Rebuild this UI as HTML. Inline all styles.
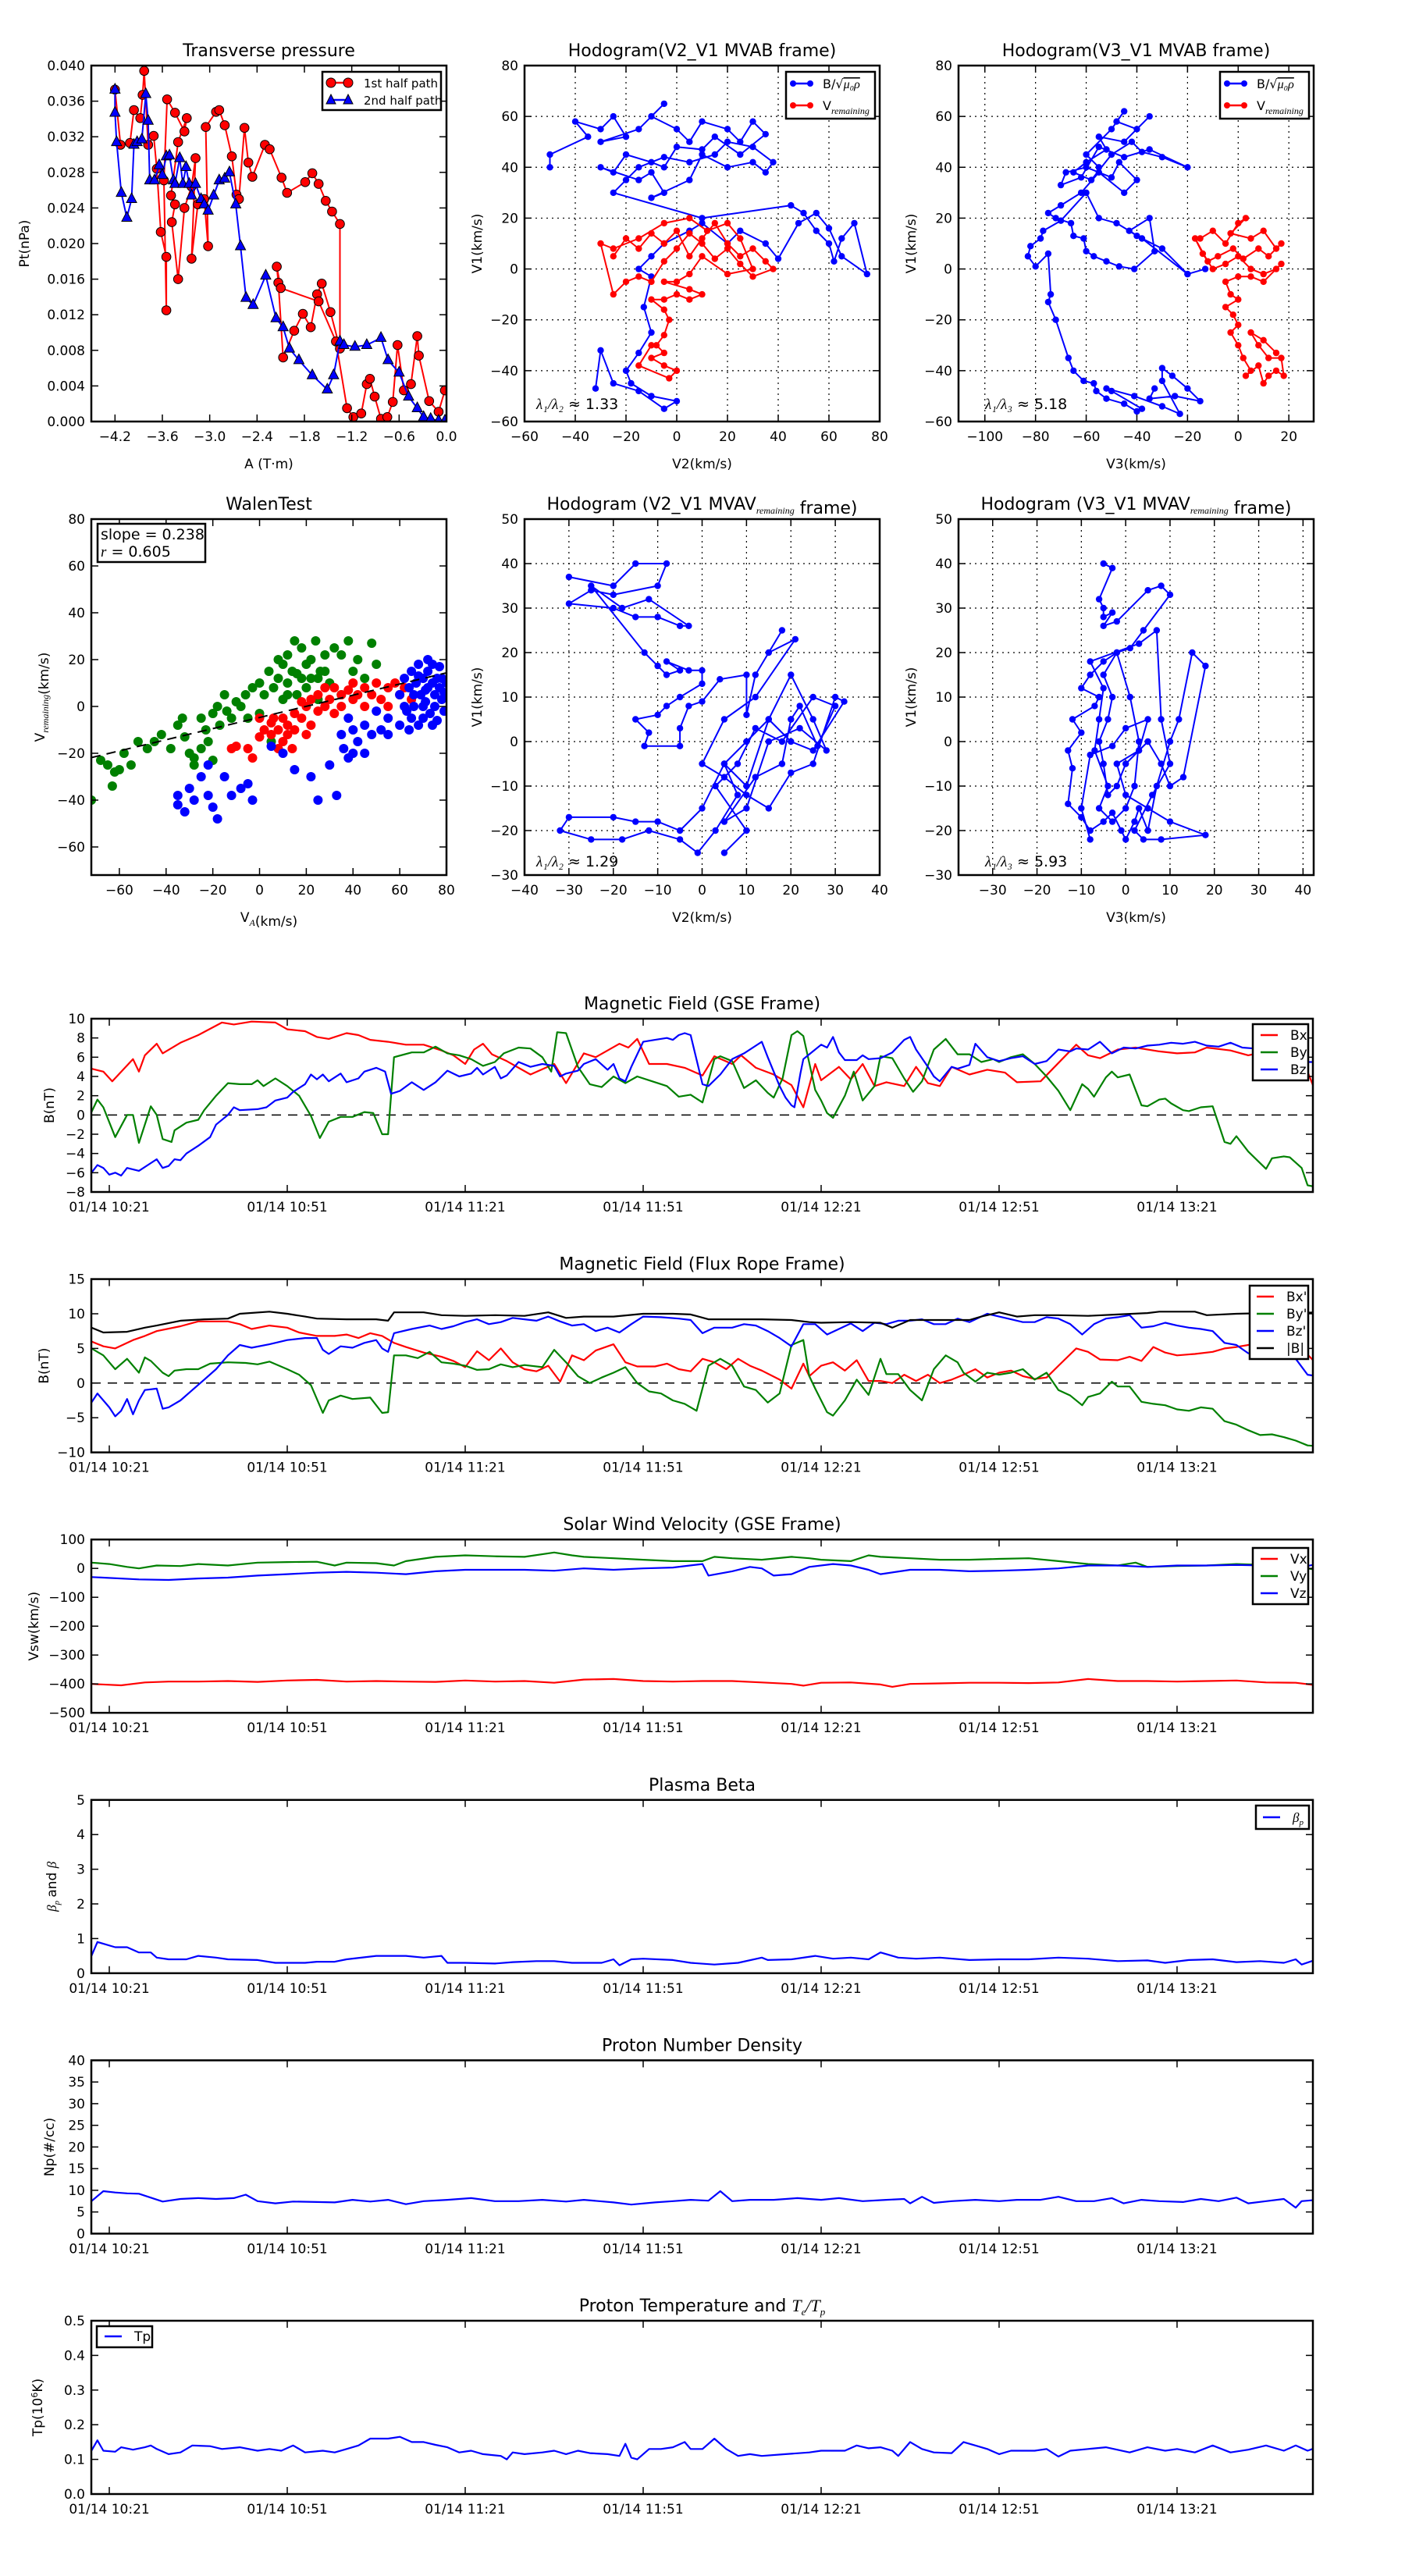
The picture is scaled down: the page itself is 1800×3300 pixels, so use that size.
<!DOCTYPE html>
<html><head><meta charset="utf-8"><title>Flux rope analysis</title>
<style>
html,body{margin:0;padding:0;background:#fff;}
svg{display:block;font-family:"DejaVu Sans","Liberation Sans",sans-serif;}
</style></head>
<body>
<svg id="fig" width="1800" height="3300" viewBox="0 0 1800 3300" xmlns="http://www.w3.org/2000/svg">
<rect x="0" y="0" width="1800" height="3300" fill="#fff"/>
</svg>
<script>
// ---------------- DATA ----------------
const ptTicksX=[-4.2,-3.6,-3.0,-2.4,-1.8,-1.2,-0.6,0.0];
const ptTicksY=[0,0.004,0.008,0.012,0.016,0.020,0.024,0.028,0.032,0.036,0.040];
const pt1stHalf=[[-4.20,.0373],[-4.13,.0311],[-4.01,.0313],[-3.96,.0350],[-3.88,.0341],[-3.85,.0367],[-3.83,.0394],[-3.78,.0311],[-3.71,.0321],[-3.67,.0284],[-3.62,.0213],[-3.55,.0185],[-3.55,.0125],[-3.58,.0271],[-3.54,.0362],[-3.44,.0347],[-3.32,.0326],[-3.29,.0341],[-3.40,.0314],[-3.49,.0254],[-3.44,.0244],[-3.48,.0224],[-3.40,.0160],[-3.32,.0240],[-3.23,.0264],[-3.18,.0296],[-3.23,.0183],[-3.15,.0244],[-3.07,.0250],[-3.02,.0197],[-3.05,.0331],[-2.92,.0348],[-2.88,.0350],[-2.81,.0333],[-2.72,.0298],[-2.66,.0255],[-2.63,.0250],[-2.56,.0330],[-2.51,.0291],[-2.46,.0275],[-2.30,.0311],[-2.24,.0306],[-2.09,.0274],[-2.02,.0257],[-1.79,.0269],[-1.70,.0279],[-1.62,.0267],[-1.53,.0248],[-1.45,.0236],[-1.35,.0222],[-1.35,.0082],[-1.47,.0123],[-1.58,.0155],[-1.64,.0143],[-1.72,.0106],[-1.82,.0121],[-1.93,.0102],[-2.07,.0072],[-2.13,.0156],[-2.15,.0174],[-2.10,.0150],[-1.62,.0135],[-1.40,.0090],[-1.26,.0015],[-1.18,.0005],[-1.08,.0009],[-1.01,.0042],[-0.97,.0048],[-0.91,.0028],[-0.83,.0003],[-0.75,.0005],[-0.68,.0022],[-0.62,.0086],[-0.54,.0035],[-0.45,.0042],[-0.37,.0096],[-0.35,.0074],[-0.22,.0023],[-0.10,.0011],[-0.02,.0035]];
const pt2ndHalf=[[-4.20,.0373],[-4.20,.0347],[-4.18,.0314],[-4.12,.0257],[-4.05,.0229],[-3.99,.0250],[-3.96,.0311],[-3.92,.0314],[-3.86,.0317],[-3.81,.0368],[-3.78,.0338],[-3.76,.0271],[-3.70,.0271],[-3.64,.0288],[-3.60,.0277],[-3.55,.0298],[-3.51,.0299],[-3.46,.0271],[-3.44,.0267],[-3.38,.0296],[-3.34,.0267],[-3.30,.0286],[-3.26,.0267],[-3.23,.0254],[-3.18,.0267],[-3.11,.0250],[-3.07,.0244],[-3.02,.0237],[-2.95,.0254],[-2.88,.0271],[-2.81,.0273],[-2.75,.0280],[-2.67,.0244],[-2.61,.0197],[-2.54,.0139],[-2.45,.0131],[-2.29,.0164],[-2.16,.0116],[-2.07,.0106],[-1.99,.0082],[-1.87,.0069],[-1.70,.0052],[-1.51,.0036],[-1.43,.0052],[-1.35,.0090],[-1.30,.0086],[-1.16,.0084],[-1.01,.0086],[-0.83,.0094],[-0.74,.0069],[-0.60,.0055],[-0.48,.0028],[-0.37,.0015],[-0.29,.0005],[-0.20,.0003],[-0.10,.0001],[-0.02,.0001]];

const h1Blue=[[-50,40],[-50,45],[-35,52],[-40,58],[-30,55],[-25,60],[-20,52],[-30,50],[-15,55],[-5,65],[-10,60],[0,55],[5,50],[10,58],[20,55],[25,50],[30,58],[35,53],[25,45],[15,52],[10,47],[0,48],[-5,40],[-10,42],[-20,45],[-25,38],[-30,40],[-15,35],[-10,38],[-5,30],[-10,28],[5,35],[10,45],[20,40],[30,42],[35,38],[38,42],[30,48],[20,50],[15,45],[5,42],[-5,44],[-15,40],[-20,35],[-25,30],[10,20],[45,25],[50,22],[55,15],[60,10],[62,3],[65,12],[70,18],[75,-2],[65,5],[60,16],[55,22],[48,18],[40,4],[35,10],[25,15],[20,10],[10,18],[5,15],[-5,10],[-10,5],[-15,0],[-10,-3],[-13,-15],[-10,-25],[-15,-33],[-20,-40],[-18,-45],[-10,-50],[0,-52],[-5,-55],[-15,-48],[-25,-45],[-30,-32],[-32,-47]];
const h1Red=[[-25,5],[-20,12],[-15,8],[-10,14],[-5,10],[0,15],[5,5],[10,12],[15,18],[20,10],[25,5],[30,8],[35,3],[38,0],[30,-3],[25,2],[20,8],[15,4],[10,10],[5,14],[0,8],[-5,3],[-10,-5],[-15,-3],[-20,-5],[-25,-10],[-30,10],[-25,8],[-15,12],[-5,18],[5,20],[12,15],[20,18],[25,12],[30,0],[20,-2],[10,5],[5,-2],[0,-5],[-5,-5],[5,-8],[10,-10],[5,-12],[0,-10],[-5,-12],[-10,-12],[-5,-16],[-3,-20],[-5,-26],[-8,-30],[-5,-33],[-10,-35],[-5,-38],[0,-40],[-3,-43],[-15,-38],[-10,-30]];
const h2Blue=[[-55,40],[-60,45],[-50,55],[-45,62],[-48,58],[-40,55],[-35,60],[-45,50],[-55,52],[-52,47],[-60,42],[-65,38],[-58,35],[-50,45],[-42,50],[-38,46],[-30,44],[-20,40],[-35,47],[-45,44],[-55,48],[-62,36],[-70,33],[-68,38],[-60,40],[-50,36],[-47,42],[-40,35],[-45,30],[-55,38],[-62,30],[-70,25],[-75,22],[-72,20],[-66,18],[-65,13],[-61,12],[-60,7],[-57,5],[-52,3],[-47,1],[-41,0],[-33,7],[-35,20],[-43,15],[-40,13],[-30,8],[-20,-2],[-13,0],[-20,-2],[-38,12],[-48,18],[-55,20],[-60,30],[-70,19],[-77,15],[-78,12],[-82,9],[-83,5],[-80,1],[-75,6],[-74,-10],[-75,-13],[-72,-20],[-67,-35],[-65,-40],[-61,-44],[-57,-45],[-56,-48],[-52,-51],[-45,-53],[-40,-56],[-38,-55],[-50,-48],[-52,-47],[-41,-50],[-30,-54],[-23,-57],[-30,-44],[-30,-39],[-26,-42],[-20,-47],[-15,-52],[-25,-50],[-35,-51],[-33,-47]];
const h2Red=[[-15,12],[-10,15],[-5,10],[0,18],[3,20],[-3,14],[5,12],[10,15],[15,8],[17,10],[12,5],[8,8],[2,4],[-2,8],[-8,5],[-12,3],[-17,12],[-14,6],[-10,0],[-5,2],[0,5],[5,0],[10,-2],[15,0],[17,2],[10,-5],[5,-3],[0,-3],[-5,-5],[-3,-10],[0,-12],[-5,-15],[-2,-18],[0,-22],[-3,-25],[0,-30],[2,-35],[5,-40],[3,-42],[8,-38],[10,-45],[12,-42],[15,-40],[18,-42],[17,-35],[12,-35],[8,-30],[5,-25],[10,-28],[15,-33]];

const walenGreen=[[-72,-40],[-68,-23],[-65,-25],[-63,-34],[-62,-28],[-60,-27],[-58,-20],[-55,-25],[-52,-15],[-48,-18],[-45,-15],[-42,-12],[-38,-18],[-35,-8],[-33,-5],[-32,-13],[-30,-20],[-28,-22],[-28,-25],[-25,-18],[-25,-5],[-23,-10],[-22,-15],[-20,-3],[-20,-23],[-18,0],[-17,-8],[-15,5],[-14,-2],[-12,-5],[-10,2],[-8,0],[-6,5],[-5,-5],[-3,8],[0,-3],[0,10],[2,5],[4,15],[5,-15],[6,8],[8,12],[10,3],[10,18],[12,10],[12,22],[14,15],[15,28],[16,5],[18,12],[20,8],[20,18],[22,20],[24,28],[25,3],[26,15],[28,22],[30,10],[32,25],[35,22],[35,5],[38,28],[40,15],[42,20],[45,12],[48,27],[50,18],[25,12],[18,25],[8,20],[12,5],[16,14],[22,12],[28,15]];
const walenRed=[[-12,-18],[-10,-17],[-5,-18],[-3,-22],[0,-13],[0,-5],[2,-10],[5,-12],[5,-7],[8,-10],[10,-5],[10,-15],[12,-8],[15,-3],[15,-10],[18,-5],[18,2],[20,0],[22,-8],[22,3],[25,-2],[25,5],[28,0],[28,8],[30,3],[32,-3],[32,8],[35,0],[35,5],[38,7],[40,3],[40,10],[42,5],[45,0],[45,8],[48,5],[50,10],[52,3],[55,8],[55,0],[60,5],[58,10],[62,8],[65,3],[8,-18],[14,-18],[20,-12],[12,-12],[6,-5]];
const walenBlue=[[60,5],[62,12],[63,-2],[64,8],[65,15],[66,0],[67,10],[68,-8],[68,18],[69,5],[70,12],[70,-5],[71,2],[72,15],[72,8],[73,-3],[74,18],[74,10],[75,5],[75,0],[76,12],[76,-6],[77,8],[77,17],[78,3],[78,12],[79,6],[79,-2],[80,10],[80,4],[66,5],[70,0],[72,20],[74,-8],[65,-5],[62,0],[60,-8],[64,-10],[68,13],[71,7],[50,-2],[52,-10],[55,-5],[48,-12],[45,-8],[42,-15],[40,-20],[38,-22],[36,-18],[40,-10],[38,-5],[35,-12],[30,-25],[33,-38],[25,-40],[22,-30],[15,-27],[10,-20],[5,-17],[-3,-40],[-5,-33],[-8,-35],[-12,-38],[-15,-30],[-18,-48],[-20,-43],[-22,-38],[-25,-30],[-28,-40],[-30,-35],[-32,-45],[-35,-42],[-35,-38],[-22,-25],[55,-12],[45,-20]];
const walenSlope=0.238, walenIntercept=-4.7;

const h3Blue=[[-30,37],[-20,35],[-15,40],[-8,40],[-10,35],[-20,33],[-25,34],[-30,31],[-20,30],[-15,28],[-10,28],[-5,26],[-3,26],[-12,32],[-18,30],[-25,35],[-13,20],[-10,17],[-8,15],[-5,16],[-8,18],[-3,16],[0,16],[0,13],[-5,10],[-8,8],[-10,6],[-15,5],[-12,2],[-13,-1],[-5,-1],[-5,3],[-3,8],[0,9],[4,14],[10,15],[10,6],[12,15],[18,25],[15,20],[21,23],[12,10],[5,5],[0,-5],[5,-8],[10,-12],[15,-15],[20,-7],[25,-5],[30,10],[32,9],[25,-2],[20,0],[15,5],[10,0],[5,-5],[0,-15],[-5,-20],[-10,-18],[-15,-18],[-20,-17],[-30,-17],[-32,-20],[-25,-22],[-18,-22],[-12,-20],[-5,-22],[-1,-25],[3,-20],[8,-12],[5,-5],[10,-10],[15,5],[20,15],[25,5],[28,-2],[22,3],[15,0],[10,-15],[5,-18],[12,-8],[18,-5],[20,5],[22,8],[26,-1],[30,8],[25,10],[18,0],[12,3],[8,-5],[3,-10],[10,-20],[5,-25]];
const h4Blue=[[-5,40],[-3,39],[-6,32],[-5,30],[-5,28],[-3,29],[-5,26],[-2,27],[5,34],[8,35],[10,33],[4,25],[1,21],[-2,20],[-5,18],[-8,15],[-10,12],[-6,10],[-7,8],[-12,5],[-10,2],[-13,-2],[-12,-6],[-13,-14],[-10,-17],[-8,-20],[-5,-18],[-3,-16],[-1,-20],[0,-22],[2,-18],[3,-15],[5,-20],[7,-10],[10,0],[12,5],[15,20],[18,17],[13,-8],[10,-10],[8,-5],[5,0],[0,-5],[-2,-10],[-4,-12],[-5,-5],[-6,0],[-4,5],[-3,10],[-5,15],[-2,20],[1,10],[3,0],[2,-10],[0,-15],[-3,-18],[-6,-15],[-4,-10],[-7,-2],[-6,5],[-5,12],[-8,18],[3,22],[7,25],[8,5],[10,-5],[6,-12],[2,-20],[4,-22],[8,-22],[18,-21],[10,-18],[5,-15],[0,-12],[-2,-5],[3,-2],[5,5],[0,3],[-3,-1],[-8,-3],[-10,-15],[-8,-22]];

// time series (minutes after 10:21)
const timeTicks=[0,30,60,90,120,150,180];
const timeTickLabels=["01/14 10:21","01/14 10:51","01/14 11:21","01/14 11:51","01/14 12:21","01/14 12:51","01/14 13:21"];
const bxGSE=[[-3,4.8],[-1,4.5],[0.5,3.5],[4,5.8],[5,4.5],[6,6.2],[8,7.4],[9,6.4],[12,7.5],[15,8.3],[19,9.6],[21,9.4],[24,9.7],[28,9.6],[30,8.9],[33,8.7],[35,8.1],[37,7.9],[40,8.5],[42,8.3],[44,7.8],[47,7.6],[50,7.3],[53,7.3],[56,6.7],[58,6.2],[60,5.3],[61.5,6.8],[63,7.4],[64.5,6.3],[67,5.6],[71,4.2],[75,5.3],[77,3.3],[80,6.4],[82,6.0],[86,7.4],[87.5,7.0],[89,7.9],[91,5.3],[94,5.3],[97,4.9],[100,4.1],[102,6.1],[105,5.3],[106.5,6.2],[109,4.9],[112,4.2],[115,3.1],[117,0.8],[119,5.3],[120,3.6],[123,5.0],[125,3.7],[127,5.3],[129,3.0],[131,3.4],[134,3.0],[136,5.0],[138,3.3],[140,3.0],[142,5.0],[145,4.2],[148,4.7],[151,4.4],[153,3.4],[157,3.5],[160,5.4],[163,7.3],[165,6.2],[167,5.9],[170,6.8],[173,7.0],[177,6.6],[180,6.4],[183,6.5],[185,7.0],[189,6.7],[192,6.2],[195,6.6],[200,6.0],[202,4.5],[203.6,2.0]];
const byGSE=[[-3,0.3],[-2,1.6],[-1,0.8],[1,-2.3],[3,0],[4,0],[5,-2.9],[7,0.9],[8,0],[9,-2.5],[10.5,-2.8],[11,-1.6],[13,-0.8],[15,-0.5],[16,0.5],[18,2.0],[20,3.3],[22,3.2],[24,3.2],[25,3.6],[26,3.0],[28,3.8],[30,3.0],[32,2.0],[34,-0.1],[35.5,-2.4],[37,-0.7],[39,-0.2],[41,-0.2],[43,0.3],[44.5,0.2],[46,-2.0],[47,-2.0],[48,6.0],[51,6.5],[53,6.5],[55,7.1],[57,6.4],[59,6.2],[61,5.8],[63,5.1],[65,5.5],[66.5,6.4],[69,7.0],[71,6.9],[73,6.0],[74.5,4.5],[75.5,8.6],[77,8.5],[79,5.0],[81,3.2],[83,2.9],[85,4.0],[87,3.3],[89,4.0],[91,3.6],[94,3.0],[96,1.9],[98,2.1],[100,1.3],[102,5.8],[103,6.1],[105,5.6],[107,2.8],[109,3.6],[111,2.3],[112,1.8],[113.5,3.8],[115,8.3],[116,8.7],[117,8.2],[119,2.6],[120,1.5],[121,0.2],[122,-0.3],[124,2.0],[125.5,4.5],[127,1.5],[129,3.0],[130,6.1],[132,5.9],[134,3.8],[135.5,2.4],[137,3.5],[139,6.8],[141,7.9],[143,6.3],[145,6.3],[147,5.5],[149,5.8],[150,5.5],[152,6.0],[154,6.3],[156,5.3],[158,4.0],[160,2.5],[162,0.5],[164,3.2],[165,2.7],[166,1.9],[168,3.9],[169,4.5],[170,3.9],[172,4.2],[174,1.0],[175,0.9],[177,1.6],[178,1.7],[179,1.2],[181,0.5],[182,0.4],[184,0.8],[186,0.9],[188,-2.8],[189,-3.0],[190,-2.2],[192,-3.8],[195,-5.6],[196,-4.5],[198,-4.3],[199,-4.4],[201,-5.5],[202,-7.3],[203.6,-7.5]];
const bzGSE=[[-3,-6.0],[-2,-5.2],[-1,-5.5],[0,-6.2],[1,-6.0],[2,-6.3],[3,-5.5],[5,-5.8],[7,-5.0],[8,-4.6],[9,-5.5],[10,-5.3],[11,-4.6],[12,-4.7],[13,-4.0],[15,-3.2],[17,-2.3],[18,-1.0],[20,0],[21,0.8],[22,0.5],[25,0.6],[26.5,0.8],[28,1.5],[30,1.8],[31,2.4],[33,3.2],[34,4.2],[35,3.7],[36,4.2],[37,3.5],[39,4.3],[40,3.4],[42,3.8],[43,4.5],[45,4.9],[46.5,4.5],[47.5,2.2],[49,2.5],[51,3.4],[53,2.6],[55,3.4],[57,4.6],[59,4.0],[61,4.3],[62,4.9],[63,4.2],[65,5.0],[66,3.8],[67,4.1],[69,5.5],[71,5.0],[73,5.3],[75,5.1],[76,4.0],[77,4.3],[79,4.6],[80,5.3],[82,5.8],[84,4.7],[85,5.3],[86,3.8],[87,3.5],[88,5.0],[90,7.6],[92,7.8],[94,8.0],[95,7.8],[96,8.3],[97,8.5],[98,8.3],[100,3.2],[101,3.0],[103,4.2],[105,5.8],[107,6.4],[109,7.2],[110,7.6],[111,6.0],[113,3.0],[114,1.8],[115,1.0],[115.5,0.8],[116.5,4.3],[117,5.8],[118,6.3],[120,7.3],[121,7.0],[122,8.1],[123,6.5],[124,5.7],[126,5.7],[127,6.2],[128,5.8],[130,5.9],[132,6.5],[134,7.8],[135,8.1],[136,6.8],[138,5.0],[139,4.0],[140,3.5],[142,5.0],[143,4.8],[145,5.2],[146,7.4],[148,6.0],[150,5.6],[152,5.9],[154,6.1],[156,5.3],[158,5.6],[160,6.8],[162,6.6],[163,6.9],[165,6.8],[167,7.6],[169,6.4],[171,7.0],[173,6.9],[175,7.2],[177,7.3],[179,7.5],[181,7.4],[183,7.6],[185,7.2],[187,7.1],[189,7.5],[191,7.0],[193,6.9],[195,6.1],[197,6.4],[199,5.8],[201,5.5],[203.6,5.5]];

const bxFR=[[-3,6],[-1,5.3],[1,5.0],[4,6.2],[6,6.8],[8,7.5],[12,8.2],[15,8.9],[20,8.9],[22,8.5],[24,7.8],[27,8.3],[30,8.0],[32,7.3],[35,6.8],[38,6.8],[40,7.0],[42,6.5],[44,7.2],[46,6.8],[48,5.8],[50,5.2],[53,4.4],[56,3.8],[58,3.2],[60,2.3],[62,4.6],[64,3.3],[66,5.0],[68,3.0],[70,2.0],[72,1.7],[74,2.5],[76,0.2],[78,4.0],[80,3.3],[82,4.7],[85,5.6],[87,3.0],[89,2.4],[92,2.4],[94,2.8],[96,2.0],[98,1.7],[100,3.5],[102,3.0],[104,2.0],[106,3.5],[108,2.5],[110,1.8],[113,0.5],[115,-0.8],[117,2.8],[118,1.0],[120,2.5],[122,3.0],[124,1.8],[126,3.3],[128,0.3],[130,0.3],[132,0],[134,1.2],[136,0.3],[138,1.2],[140,0],[142,0.5],[144,1.2],[146,2.0],[148,0.8],[150,1.5],[152,1.8],[154,1.0],[156,0.6],[158,0.8],[160,2.5],[163,5.0],[165,4.5],[167,3.4],[170,3.3],[172,3.8],[174,3.2],[176,5.2],[178,4.4],[180,4.0],[183,4.2],[186,4.5],[188,5.0],[190,5.2],[192,5.5],[194,6.0],[196,5.5],[199,4.7],[201,5.0],[203.6,2.7]];
const byFR=[[-3,5],[-1,4],[1,2],[3,3.5],[5,1.5],[6,3.7],[7,3.2],[9,1.5],[10,1.0],[11,1.8],[13,2],[15,2],[17,2.8],[20,3.0],[23,2.9],[25,2.7],[27,3.1],[30,2.0],[32,1.2],[34,-0.3],[36,-4.3],[37,-2.5],[39,-1.8],[41,-2.3],[44,-2.1],[46,-4.3],[47,-4.2],[48,4],[50,4.0],[52,3.6],[54,4.5],[56,3.0],[58,2.8],[60,2.5],[62,1.9],[64,2.0],[66,2.7],[68,2.3],[70,2.6],[73,2.3],[75,4.8],[77,3.0],[79,1.0],[81,0],[83,0.8],[85,1.5],[87,2.3],[89,0],[91,-1.2],[93,-1.5],[95,-2.5],[97,-3.0],[99,-4.0],[101,2.5],[103,3.5],[105,2.5],[107,-0.5],[109,-1.0],[111,-2.8],[113,-1.5],[115,5.5],[117,6.2],[118,1.0],[119,-0.8],[121,-4.2],[122,-4.7],[124,-2.5],[126,0.5],[128,-1.7],[130,3.5],[131,1.3],[133,1.3],[135,-1.0],[137,-2.5],[139,2.0],[141,4.0],[143,3.0],[144,1.5],[146,0.2],[148,1.5],[150,1.2],[152,1.5],[154,2.0],[156,0.5],[158,1.5],[160,-1.0],[162,-1.8],[164,-3.2],[165,-2.0],[167,-1.5],[169,0.2],[170,-0.5],[172,-0.5],[174,-2.7],[176,-3.0],[178,-3.2],[180,-3.8],[182,-4.0],[184,-3.5],[186,-3.7],[188,-5.5],[190,-6.0],[192,-6.8],[194,-7.5],[196,-7.4],[198,-7.8],[200,-8.3],[202,-9.0],[203.6,-9.1]];
const bzFR=[[-3,-2.8],[-2,-1.5],[0,-3.5],[1,-4.8],[2,-4.0],[3,-2.3],[4,-4.5],[5,-2.5],[6,-1.0],[8,-0.8],[9,-3.7],[10,-3.5],[12,-2.5],[14,-1.0],[16,0.5],[18,2.0],[20,4.0],[22,5.5],[24,5.1],[27,5.6],[30,6.2],[33,6.5],[35,6.5],[36,4.8],[37,4.2],[39,5.3],[41,5.1],[43,5.8],[45,6.2],[46,5.0],[47,4.5],[48,7.2],[51,7.8],[54,8.3],[56,7.8],[58,8.2],[60,8.8],[62,9.2],[64,8.5],[66,8.8],[68,9.4],[70,9.2],[72,9.0],[74,9.6],[76,8.9],[78,8.3],[80,8.5],[82,7.5],[84,8.0],[86,7.3],[88,8.5],[90,9.6],[93,9.5],[96,9.3],[98,9.1],[100,7.2],[102,8.0],[105,8.0],[107,8.5],[109,8.3],[111,7.5],[113,6.5],[115,5.3],[117,8.5],[119,8.5],[121,7.0],[123,7.8],[125,8.6],[127,7.5],[129,8.7],[131,8.5],[133,9.0],[135,9.0],[137,9.2],[139,8.5],[141,8.5],[143,9.3],[145,8.8],[148,10.0],[150,9.6],[152,9.2],[154,8.8],[156,8.8],[158,9.5],[160,9.3],[162,8.5],[164,7.0],[166,8.5],[168,9.3],[170,9.5],[172,9.8],[174,8.0],[176,8.2],[178,8.7],[180,8.3],[182,8.0],[184,7.8],[186,7.5],[188,5.8],[190,5.5],[192,4.3],[194,4.0],[196,3.8],[198,4.5],[200,3.5],[202,1.2],[203.6,1.0]];
const bmagFR=[[-3,8],[-1,7.3],[3,7.4],[6,8.0],[8,8.3],[12,9.0],[16,9.2],[20,9.3],[22,10.0],[27,10.3],[30,10.0],[33,9.6],[35,9.3],[40,9.2],[45,9.2],[47,9.0],[48,10.2],[53,10.2],[56,9.8],[60,9.7],[65,9.8],[70,9.7],[74,10.2],[77,9.4],[80,9.6],[85,9.6],[90,10.0],[95,10.0],[98,9.9],[101,9.2],[105,9.2],[110,9.2],[115,9.1],[118,8.8],[120,8.7],[125,8.8],[130,8.7],[132,8.0],[135,9.1],[140,9.1],[145,9.1],[147,9.6],[150,10.2],[153,9.6],[156,9.8],[160,9.8],[165,9.7],[170,9.9],[175,10.1],[177,10.3],[183,10.3],[185,9.8],[190,10.0],[195,10.1],[200,10.1],[203.6,10.2]];

const vxGSE=[[-3,-400],[2,-405],[6,-395],[10,-392],[15,-392],[20,-390],[25,-393],[30,-388],[35,-386],[40,-392],[45,-390],[50,-392],[55,-393],[60,-388],[65,-392],[70,-390],[75,-396],[80,-385],[85,-383],[90,-390],[95,-392],[100,-390],[105,-390],[110,-395],[115,-400],[117,-406],[120,-396],[125,-395],[130,-402],[132,-410],[135,-400],[140,-398],[145,-396],[150,-396],[155,-397],[160,-395],[165,-383],[170,-390],[175,-390],[180,-392],[185,-390],[190,-388],[195,-395],[200,-396],[203.6,-405]];
const vyGSE=[[-3,20],[0,15],[3,5],[5,0],[8,10],[12,8],[15,15],[20,10],[25,20],[30,22],[35,23],[38,10],[40,20],[45,18],[48,10],[50,25],[55,40],[60,45],[65,42],[70,40],[75,55],[78,45],[80,40],[85,35],[90,30],[95,25],[100,25],[102,40],[105,35],[110,30],[115,40],[118,35],[120,30],[125,25],[128,45],[130,40],[135,35],[140,30],[145,30],[150,33],[155,35],[160,25],[165,15],[170,10],[173,20],[175,5],[180,8],[185,10],[190,15],[195,12],[200,5],[203.6,-5]];
const vzGSE=[[-3,-30],[5,-38],[10,-40],[15,-35],[20,-32],[25,-25],[30,-20],[35,-15],[40,-12],[45,-15],[50,-20],[55,-10],[60,-5],[65,-5],[70,-5],[75,-8],[80,0],[85,-5],[90,0],[95,3],[100,15],[101,-25],[105,-10],[108,5],[110,0],[112,-25],[115,-20],[118,5],[122,15],[125,10],[128,-5],[130,-20],[135,-5],[140,-5],[145,-10],[150,-8],[155,-5],[160,0],[165,10],[170,10],[175,5],[180,10],[185,10],[190,12],[195,10],[200,0],[203.6,15]];

const betaP=[[-3,0.5],[-2,0.9],[1,0.75],[3,0.75],[5,0.6],[7,0.6],[8,0.45],[10,0.4],[13,0.4],[15,0.5],[18,0.45],[20,0.4],[25,0.38],[28,0.3],[33,0.3],[35,0.33],[38,0.33],[40,0.4],[45,0.5],[50,0.5],[53,0.45],[56,0.5],[57,0.3],[60,0.3],[65,0.28],[68,0.32],[72,0.35],[75,0.35],[78,0.3],[83,0.3],[85,0.4],[86,0.23],[88,0.4],[90,0.42],[95,0.38],[98,0.3],[102,0.25],[106,0.3],[110,0.45],[111,0.38],[115,0.4],[119,0.5],[122,0.42],[125,0.45],[128,0.4],[130,0.6],[133,0.45],[136,0.42],[140,0.45],[145,0.38],[150,0.4],[155,0.4],[160,0.45],[165,0.42],[170,0.35],[175,0.37],[178,0.3],[182,0.38],[186,0.4],[190,0.32],[194,0.35],[198,0.3],[200,0.4],[201,0.25],[203.6,0.4]];
const densityNp=[[-3,7.5],[-1,9.8],[1,9.5],[3,9.3],[5,9.2],[7,8.3],[9,7.4],[12,8.0],[15,8.2],[18,8.0],[21,8.2],[23,9.0],[25,7.5],[28,7.0],[31,7.4],[35,7.3],[38,7.2],[41,7.8],[44,7.4],[47,7.8],[50,6.8],[53,7.5],[57,7.8],[61,8.2],[65,7.5],[69,7.5],[73,7.8],[77,7.4],[80,7.8],[85,7.2],[88,6.7],[92,7.2],[95,7.5],[98,7.8],[101,7.6],[103,9.8],[105,7.5],[108,7.8],[112,7.8],[116,8.2],[120,7.8],[123,8.2],[127,7.5],[131,7.8],[134,8.0],[135,7.0],[137,8.5],[139,7.1],[142,7.5],[146,7.8],[150,7.5],[153,7.8],[157,7.8],[160,8.5],[163,7.5],[166,7.5],[169,8.2],[171,7.0],[174,7.8],[177,7.5],[181,7.3],[184,8.0],[187,7.5],[190,8.3],[192,7.0],[195,7.5],[198,8.0],[200,6.0],[201,7.5],[203.6,7.8]];
const tempTp=[[-3,0.125],[-2,0.155],[-1,0.125],[1,0.122],[2,0.135],[4,0.128],[6,0.135],[7,0.14],[8,0.13],[10,0.115],[12,0.12],[14,0.14],[17,0.138],[19,0.13],[22,0.135],[25,0.125],[27,0.13],[29,0.125],[31,0.14],[33,0.12],[36,0.125],[38,0.12],[40,0.13],[42,0.14],[44,0.16],[47,0.16],[49,0.165],[51,0.15],[53,0.15],[55,0.142],[57,0.135],[59,0.12],[61,0.125],[63,0.115],[66,0.11],[67,0.1],[68,0.12],[70,0.115],[73,0.12],[75,0.125],[77,0.115],[79,0.125],[81,0.118],[84,0.115],[86,0.11],[87,0.145],[88,0.105],[89,0.1],[91,0.13],[93,0.13],[95,0.135],[97,0.15],[98,0.13],[100,0.13],[102,0.16],[104,0.13],[106,0.11],[108,0.115],[110,0.11],[114,0.115],[118,0.12],[120,0.125],[124,0.125],[126,0.14],[128,0.132],[130,0.135],[132,0.125],[133,0.11],[135,0.15],[137,0.13],[139,0.12],[142,0.118],[144,0.15],[146,0.14],[148,0.13],[150,0.115],[152,0.125],[156,0.125],[158,0.13],[160,0.108],[162,0.125],[165,0.13],[168,0.135],[172,0.12],[175,0.135],[178,0.125],[180,0.13],[183,0.12],[186,0.14],[189,0.12],[192,0.128],[195,0.14],[198,0.125],[200,0.14],[202,0.125],[203.6,0.135]];

// ---------------- DRAWING ----------------
const NS='http://www.w3.org/2000/svg';
const svg=document.getElementById('fig');
function mk(tag,attrs,parent){const e=document.createElementNS(NS,tag);for(const k in attrs)e.setAttribute(k,attrs[k]);(parent||svg).appendChild(e);return e;}
let clipId=0;
function fmtNum(v,dec){const s=Math.abs(v).toFixed(dec);return (v<0?'\u2212':'')+s;}

function makeAxes(c){
  const g=mk('g',{});
  
  
  const sx=v=>c.x+(v-c.xmin)/(c.xmax-c.xmin)*c.w;
  const sy=v=>c.y+c.h-(v-c.ymin)/(c.ymax-c.ymin)*c.h;
  const cid='clip'+(clipId++);
  const cp=mk('clipPath',{id:cid},g);mk('rect',{x:c.x,y:c.y,width:c.w,height:c.h},cp);
  const grid=mk('g',{},g);
  const plot=mk('g',{'clip-path':'url(#'+cid+')'},g);
  
  
  return {c,g,grid,plot,sx,sy};
}
function finishAxes(ax,o){
  const c=ax.c,g=ax.g;
  if(o.grid){
    o.xticks.forEach(t=>{const X=ax.sx(t);mk('line',{x1:X,y1:c.y,x2:X,y2:c.y+c.h,stroke:'#000','stroke-width':1.2,'stroke-dasharray':'2,5'},ax.grid);});
    o.yticks.forEach(t=>{const Y=ax.sy(t);mk('line',{x1:c.x,y1:Y,x2:c.x+c.w,y2:Y,stroke:'#000','stroke-width':1.2,'stroke-dasharray':'2,5'},ax.grid);});
  }
  const tg=mk('g',{stroke:'#000','stroke-width':1.5},g);
  o.xticks.forEach((t,i)=>{const X=ax.sx(t);
    mk('line',{x1:X,y1:c.y+c.h,x2:X,y2:c.y+c.h-9},tg);mk('line',{x1:X,y1:c.y,x2:X,y2:c.y+9},tg);
    const tx=mk('text',{x:X,y:c.y+c.h+25,'font-size':17,'text-anchor':'middle',fill:'#000'},g);
    
    
    tx.textContent=o.xlabels[i];});
  o.yticks.forEach((t,i)=>{const Y=ax.sy(t);
    mk('line',{x1:c.x,y1:Y,x2:c.x+9,y2:Y},tg);mk('line',{x1:c.x+c.w,y1:Y,x2:c.x+c.w-9,y2:Y},tg);
    const tx=mk('text',{x:c.x-8,y:Y+6,'font-size':17,'text-anchor':'end',fill:'#000'},g);
    
    
    tx.textContent=o.ylabels[i];});
  const fr=mk('rect',{x:c.x,y:c.y,width:c.w,height:c.h,fill:'none',stroke:'#000','stroke-width':2.5},g);
  
  
  if(o.title){const t=mk('text',{x:c.x+c.w/2,y:c.y-12,'font-size':22,'text-anchor':'middle',fill:'#000'},g);
    
    
    t.innerHTML=o.title;}
  if(o.xlabel){const t=mk('text',{x:c.x+c.w/2,y:c.y+c.h+(o.xlabelDy||60),'font-size':17,'text-anchor':'middle',fill:'#000'},g);
    
    
    t.innerHTML=o.xlabel;}
  if(o.ylabel){const lx=c.x-(o.ylabelDx||70),ly=c.y+c.h/2;
    const t=mk('text',{x:lx,y:ly,'font-size':17,'text-anchor':'middle',fill:'#000',transform:'rotate(-90 '+lx+' '+ly+')'},g);
    
    
    t.innerHTML=o.ylabel;}
}
function line(ax,data,color,name,lw){
  const p=mk('polyline',{points:data.map(d=>ax.sx(d[0]).toFixed(1)+','+ax.sy(d[1]).toFixed(1)).join(' '),fill:'none',stroke:color,'stroke-width':lw||2.2,'stroke-linejoin':'round'},ax.plot);
  
  
  return p;
}
function dots(ax,data,color,r,name,edge){
  const g=mk('g',{fill:color},ax.plot);
  
  
  data.forEach(d=>{const cc=mk('circle',{cx:ax.sx(d[0]).toFixed(1),cy:ax.sy(d[1]).toFixed(1),r:r},g);if(edge){cc.setAttribute('stroke','#000');cc.setAttribute('stroke-width',1);}});
}
function tris(ax,data,color,r,name){
  const g=mk('g',{fill:color,stroke:'#000','stroke-width':1},ax.plot);
  
  
  data.forEach(d=>{const X=ax.sx(d[0]),Y=ax.sy(d[1]);mk('polygon',{points:`${X},${Y-r*1.2} ${X-r},${Y+r*0.7} ${X+r},${Y+r*0.7}`},g);});
}
function legendBox(x,y,w,h,name){
  const b=mk('rect',{x,y,width:w,height:h,fill:'#fff',stroke:'#000','stroke-width':2.5});
  
  
}
function legendEntry(x,y,color,label,marker,name,fs){
  const g=mk('g',{});
  
  
  mk('line',{x1:x,y1:y,x2:x+22,y2:y,stroke:color,'stroke-width':2.5},g);
  if(marker==='dot'){mk('circle',{cx:x,cy:y,r:4,fill:color},g);mk('circle',{cx:x+22,cy:y,r:4,fill:color},g);}
  if(marker==='bigdot'){mk('circle',{cx:x,cy:y,r:6,fill:color,stroke:'#000'},g);mk('circle',{cx:x+22,cy:y,r:6,fill:color,stroke:'#000'},g);}
  if(marker==='tri'){[x,x+22].forEach(X=>mk('polygon',{points:`${X},${y-7} ${X-6},${y+5} ${X+6},${y+5}`,fill:color,stroke:'#000'},g));}
  const t=mk('text',{x:x+(marker==='bigdot'||marker==='tri'?42:38),y:y+6,'font-size':fs||17,fill:'#000'},g);
  t.innerHTML=label;
}
function note(x,y,html,name){const t=mk('text',{x,y,'font-size':19,fill:'#000'});
  
  
  t.innerHTML=html;}
const SUB=(s)=>`<tspan font-size="12" font-style="italic" dy="5" font-family="Liberation Serif, serif">${s}</tspan><tspan dy="-5"></tspan>`;

// ---- Row 1 ----
const ROW1Y=84,ROW2Y=665,PH=456,PW=455;
const C1=117,C2=672,C3=1228;
{
const ax=makeAxes({name:'transverse-pressure-chart',x:C1,y:ROW1Y,w:PW,h:PH,xmin:-4.5,xmax:0,ymin:0,ymax:0.04});
line(ax,pt1stHalf,'#f00','first-half-line',2);
dots(ax,pt1stHalf,'#f00',5.8,'first-half-markers',true);
line(ax,pt2ndHalf,'#00f','second-half-line',2);
tris(ax,pt2ndHalf,'#00f',6.5,'second-half-markers');
finishAxes(ax,{xticks:ptTicksX,xlabels:ptTicksX.map(v=>fmtNum(v,1)),yticks:ptTicksY,ylabels:ptTicksY.map(v=>v.toFixed(3)),title:'Transverse pressure',xlabel:'A (T\u00b7m)',ylabel:'Pt(nPa)',ylabelDx:80});
legendBox(413,92,152,49,'pressure-legend');
legendEntry(424,106,'#f00','1st half path','bigdot','legend-entry-1st-half',15);
legendEntry(424,128,'#00f','2nd half path','tri','legend-entry-2nd-half',15);
}
const h1t=[-60,-40,-20,0,20,40,60,80];
{
const ax=makeAxes({name:'hodogram-v2-v1-mvab',x:C2,y:ROW1Y,w:PW,h:PH,xmin:-60,xmax:80,ymin:-60,ymax:80});
line(ax,h1Blue,'#00f','b-field-path',2);dots(ax,h1Blue,'#00f',4.2,'b-field-points');
line(ax,h1Red,'#f00','v-remaining-path',2);dots(ax,h1Red,'#f00',4.2,'v-remaining-points');
finishAxes(ax,{grid:true,xticks:h1t,xlabels:h1t.map(v=>fmtNum(v,0)),yticks:h1t,ylabels:h1t.map(v=>fmtNum(v,0)),title:'Hodogram(V2_V1 MVAB frame)',xlabel:'V2(km/s)',ylabel:'V1(km/s)',ylabelDx:55});
legendBox(1007,92,114,60,'hodogram1-legend');
legendEntry(1016,107,'#00f','B/\u221a<tspan font-style="italic" font-family="Liberation Serif, serif" text-decoration="overline">\u03bc\u2080\u03c1</tspan>','dot','legend-entry-b',16);
legendEntry(1016,135,'#f00','V'+SUB('remaining'),'dot','legend-entry-v',16);
note(687,524,'<tspan font-style="italic" font-family="Liberation Serif, serif">\u03bb\u2081/\u03bb\u2082</tspan> \u2248 1.33','eigen-ratio-label');
}
const h2tx=[-100,-80,-60,-40,-20,0,20];
{
const ax=makeAxes({name:'hodogram-v3-v1-mvab',x:C3,y:ROW1Y,w:PW,h:PH,xmin:-110.4,xmax:29.8,ymin:-60,ymax:80});
line(ax,h2Blue,'#00f','b-field-path',2);dots(ax,h2Blue,'#00f',4.2,'b-field-points');
line(ax,h2Red,'#f00','v-remaining-path',2);dots(ax,h2Red,'#f00',4.2,'v-remaining-points');
finishAxes(ax,{grid:true,xticks:h2tx,xlabels:h2tx.map(v=>fmtNum(v,0)),yticks:h1t,ylabels:h1t.map(v=>fmtNum(v,0)),title:'Hodogram(V3_V1 MVAB frame)',xlabel:'V3(km/s)',ylabel:'V1(km/s)',ylabelDx:55});
legendBox(1563,92,114,60,'hodogram2-legend');
legendEntry(1572,107,'#00f','B/\u221a<tspan font-style="italic" font-family="Liberation Serif, serif" text-decoration="overline">\u03bc\u2080\u03c1</tspan>','dot','legend-entry-b',16);
legendEntry(1572,135,'#f00','V'+SUB('remaining'),'dot','legend-entry-v',16);
note(1262,524,'<tspan font-style="italic" font-family="Liberation Serif, serif">\u03bb\u2081/\u03bb\u2083</tspan> \u2248 5.18','eigen-ratio-label');
}
// ---- Row 2 ----
const wt=[-60,-40,-20,0,20,40,60,80];
{
const ax=makeAxes({name:'walen-test-chart',x:C1,y:ROW2Y,w:PW,h:PH,xmin:-72,xmax:80,ymin:-72,ymax:80});
dots(ax,walenGreen,'#008000',6,'walen-green-points');
dots(ax,walenRed,'#f00',6,'walen-red-points');
dots(ax,walenBlue,'#00f',6,'walen-blue-points');
const fx=[-72,80];
const rl=mk('line',{x1:ax.sx(fx[0]),y1:ax.sy(walenIntercept+walenSlope*fx[0]),x2:ax.sx(fx[1]),y2:ax.sy(walenIntercept+walenSlope*fx[1]),stroke:'#000','stroke-width':2,'stroke-dasharray':'12,8'},ax.plot);


finishAxes(ax,{xticks:wt,xlabels:wt.map(v=>fmtNum(v,0)),yticks:wt,ylabels:wt.map(v=>fmtNum(v,0)),title:'WalenTest',xlabel:'V'+SUB('A')+'(km/s)',ylabel:'V'+SUB('remaining')+'(km/s)',ylabelDx:60});
legendBox(125,671,138,49,'walen-stats-box');
note(129,691,'slope = 0.238','slope-label');
note(129,713,'<tspan font-style="italic" font-family="Liberation Serif, serif">r</tspan> = 0.605','r-label');
}
const h3tx=[-40,-30,-20,-10,0,10,20,30,40],h3ty=[-30,-20,-10,0,10,20,30,40,50];
{
const ax=makeAxes({name:'hodogram-v2-v1-mvav',x:C2,y:ROW2Y,w:PW,h:PH,xmin:-40,xmax:40,ymin:-30,ymax:50});
line(ax,h3Blue,'#00f','v-path',2);dots(ax,h3Blue,'#00f',4.2,'v-points');
finishAxes(ax,{grid:true,xticks:h3tx,xlabels:h3tx.map(v=>fmtNum(v,0)),yticks:h3ty,ylabels:h3ty.map(v=>fmtNum(v,0)),title:'Hodogram (V2_V1 MVAV'+SUB('remaining')+' frame)',xlabel:'V2(km/s)',ylabel:'V1(km/s)',ylabelDx:55});
note(687,1110,'<tspan font-style="italic" font-family="Liberation Serif, serif">\u03bb\u2081/\u03bb\u2082</tspan> \u2248 1.29','eigen-ratio-label');
}
const h4tx=[-30,-20,-10,0,10,20,30,40];
{
const ax=makeAxes({name:'hodogram-v3-v1-mvav',x:C3,y:ROW2Y,w:PW,h:PH,xmin:-37.7,xmax:42.4,ymin:-30,ymax:50});
line(ax,h4Blue,'#00f','v-path',2);dots(ax,h4Blue,'#00f',4.2,'v-points');
finishAxes(ax,{grid:true,xticks:h4tx,xlabels:h4tx.map(v=>fmtNum(v,0)),yticks:h3ty,ylabels:h3ty.map(v=>fmtNum(v,0)),title:'Hodogram (V3_V1 MVAV'+SUB('remaining')+' frame)',xlabel:'V3(km/s)',ylabel:'V1(km/s)',ylabelDx:55});
note(1262,1110,'<tspan font-style="italic" font-family="Liberation Serif, serif">\u03bb\u2081/\u03bb\u2083</tspan> \u2248 5.93','eigen-ratio-label');
}
// ---- Time series ----
const TX=117,TW=1565,TH=222,TMIN=-3.03,TMAX=202.9;
const tops=[1305,1638.6,1972.2,2305.8,2639.4,2973];
function tsAxes(name,top,ymin,ymax){return makeAxes({name,x:TX,y:top,w:TW,h:TH,xmin:TMIN,xmax:TMAX,ymin,ymax});}
function zeroLine(ax){const z=mk('line',{x1:TX,y1:ax.sy(0),x2:TX+TW,y2:ax.sy(0),stroke:'#000','stroke-width':1.5,'stroke-dasharray':'12,9'},ax.plot);
  
  }
{
const yt=[-8,-6,-4,-2,0,2,4,6,8,10];
const ax=tsAxes('magnetic-field-gse-chart',tops[0],-8,10);
zeroLine(ax);
line(ax,bxGSE,'#f00','bx-line');line(ax,byGSE,'#008000','by-line');line(ax,bzGSE,'#00f','bz-line');
finishAxes(ax,{xticks:timeTicks,xlabels:timeTickLabels,yticks:yt,ylabels:yt.map(v=>fmtNum(v,0)),title:'Magnetic Field (GSE Frame)',ylabel:'B(nT)',ylabelDx:48});
legendBox(1605,1312,71,72,'gse-legend');
legendEntry(1615,1326,'#f00','Bx','none','legend-entry-bx');
legendEntry(1615,1348,'#008000','By','none','legend-entry-by');
legendEntry(1615,1370,'#00f','Bz','none','legend-entry-bz');
}
{
const yt=[-10,-5,0,5,10,15];
const ax=tsAxes('magnetic-field-flux-rope-chart',tops[1],-10,15);
zeroLine(ax);
line(ax,bxFR,'#f00','bx-prime-line');line(ax,byFR,'#008000','by-prime-line');line(ax,bzFR,'#00f','bz-prime-line');line(ax,bmagFR,'#000','bmag-line');
finishAxes(ax,{xticks:timeTicks,xlabels:timeTickLabels,yticks:yt,ylabels:yt.map(v=>fmtNum(v,0)),title:'Magnetic Field (Flux Rope Frame)',ylabel:'B(nT)',ylabelDx:55});
legendBox(1601,1647,75,94,'flux-rope-legend');
legendEntry(1610,1661,'#f00',"Bx'",'none','legend-entry-bx-prime');
legendEntry(1610,1683,'#008000',"By'",'none','legend-entry-by-prime');
legendEntry(1610,1705,'#00f',"Bz'",'none','legend-entry-bz-prime');
legendEntry(1610,1727,'#000','|B|','none','legend-entry-bmag');
}
{
const yt=[-500,-400,-300,-200,-100,0,100];
const ax=tsAxes('solar-wind-velocity-chart',tops[2],-500,100);
line(ax,vxGSE,'#f00','vx-line');line(ax,vyGSE,'#008000','vy-line');line(ax,vzGSE,'#00f','vz-line');
finishAxes(ax,{xticks:timeTicks,xlabels:timeTickLabels,yticks:yt,ylabels:yt.map(v=>fmtNum(v,0)),title:'Solar Wind Velocity (GSE Frame)',ylabel:'Vsw(km/s)',ylabelDx:68});
legendBox(1605,1983,71,72,'velocity-legend');
legendEntry(1615,1997,'#f00','Vx','none','legend-entry-vx');
legendEntry(1615,2019,'#008000','Vy','none','legend-entry-vy');
legendEntry(1615,2041,'#00f','Vz','none','legend-entry-vz');
}
{
const yt=[0,1,2,3,4,5];
const ax=tsAxes('plasma-beta-chart',tops[3],0,5);
line(ax,betaP,'#00f','beta-p-line');
finishAxes(ax,{xticks:timeTicks,xlabels:timeTickLabels,yticks:yt,ylabels:yt.map(v=>fmtNum(v,0)),title:'Plasma Beta',ylabel:'<tspan font-style="italic" font-family="Liberation Serif, serif">\u03b2<tspan font-size="11" dy="4">p</tspan><tspan dy="-4"> </tspan></tspan>and <tspan font-style="italic" font-family="Liberation Serif, serif">\u03b2</tspan>',ylabelDx:45});
legendBox(1609,2313,68,30,'beta-legend');
legendEntry(1618,2328,'#00f','<tspan font-style="italic" font-family="Liberation Serif, serif">\u03b2<tspan font-size="11" dy="4">p</tspan></tspan>','none','legend-entry-beta-p');
}
{
const yt=[0,5,10,15,20,25,30,35,40];
const ax=tsAxes('proton-density-chart',tops[4],0,40);
line(ax,densityNp,'#00f','density-line');
finishAxes(ax,{xticks:timeTicks,xlabels:timeTickLabels,yticks:yt,ylabels:yt.map(v=>fmtNum(v,0)),title:'Proton Number Density',ylabel:'Np(#/cc)',ylabelDx:48});
}
{
const yt=[0,0.1,0.2,0.3,0.4,0.5];
const ax=tsAxes('proton-temperature-chart',tops[5],0,0.5);
line(ax,tempTp,'#00f','tp-line');
finishAxes(ax,{xticks:timeTicks,xlabels:timeTickLabels,yticks:yt,ylabels:yt.map(v=>v.toFixed(1)),title:'Proton Temperature and <tspan font-style="italic" font-family="Liberation Serif, serif">T<tspan font-size="13" dy="5">e</tspan><tspan dy="-5">/T</tspan><tspan font-size="13" dy="5">p</tspan></tspan>',ylabel:'Tp(10<tspan font-size="11" dy="-6">6</tspan><tspan dy="6">K)</tspan>',ylabelDx:63});
legendBox(124,2980,71,27,'tp-legend');
legendEntry(134,2993,'#00f','Tp','none','legend-entry-tp');
}
</script>
</body></html>
